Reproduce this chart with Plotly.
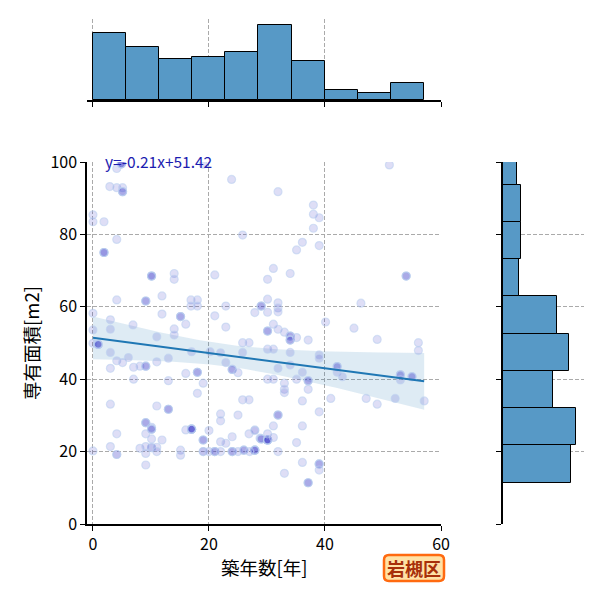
import numpy as np
import plotly.graph_objects as go

# ---- data ----
age = [4.1, 4.9, 4.9, 4.9, 4.9, 4.9, 2.9, 4.1, 5.1, 5.1, 5.1, 5.1, 0.0, 0.0, 1.9, 4.1, 1.9, 1.9, 1.9, 1.9,
       10.1, 10.1, 10.1, 10.1, 14.0, 14.0, 21.0, 4.1, 9.1, 9.1, 9.1, 11.9, 16.9, 18.0, 16.9, 18.0,
       22.9, 0.0, 11.9, 15.1, 15.1, 15.1, 3.0, 3.0, 6.9, 16.0, 14.0, 14.0, 11.0, 0.0, 22.9,
       21.0, 25.8, 23.9, 19.0, 27.9, 29.0, 29.0, 29.0, 25.8, 26.9, 0.0, 0.9, 0.9, 0.9, 0.9, 0.9,
       51.1, 31.9, 38.0, 38.0, 39.0, 38.0, 36.1, 35.1, 39.0, 31.1, 30.1, 34.0, 54.0, 54.0, 54.0,
       30.1, 31.9, 31.9, 31.9, 30.1, 46.2, 40.1, 31.1, 30.1, 30.1, 30.1, 31.9, 33.0, 34.0, 34.0,
       34.0, 34.0, 34.0, 34.0, 35.1, 37.1, 45.0, 49.0, 56.1,
       3.0, 3.0, 4.1, 5.1, 6.1, 7.0, 8.1, 9.1, 9.1, 9.1, 7.0, 11.0, 13.0, 13.0, 16.0, 18.0, 18.0, 18.0,
       17.0, 19.0, 18.0, 3.0, 11.0, 13.0, 13.0, 13.0, 4.1, 4.1, 4.1, 3.0, 0.0, 9.1, 9.1, 9.1, 9.1,
       10.1, 10.1, 10.1, 10.1, 10.1, 10.1, 10.1, 8.1, 9.1, 9.1, 11.0, 11.0, 9.1, 11.9, 15.1, 15.1,
       16.0, 17.0, 17.0, 17.0, 17.0, 17.0, 17.0, 17.0, 19.0, 19.0, 19.0, 19.0, 19.0, 20.0, 20.0,
       21.0, 21.0, 21.0, 22.0,
       22.0, 22.0, 22.9, 22.0, 24.0, 24.0, 24.0, 24.0, 25.0, 25.0, 26.0, 26.0, 26.0, 26.9, 27.9, 27.9,
       27.9, 27.9, 27.9, 27.9, 27.0, 28.8, 25.8, 26.9, 20.2, 22.0, 22.9, 24.0, 24.0, 24.0, 25.0, 25.8,
       56.1, 30.1, 31.1, 34.0, 39.0, 39.0, 42.1, 42.1, 42.1, 42.1, 43.0, 31.9, 34.0, 36.1, 30.1,
       31.1, 35.1, 37.1, 37.1, 37.1, 33.0, 33.0, 33.0, 37.1, 36.1, 41.0, 47.1, 49.0, 52.1, 53.0,
       53.0, 53.0, 53.0, 55.0, 55.0, 55.0, 57.1, 39.0, 31.9, 31.9, 31.9, 31.1, 36.1, 27.9, 29.0, 29.0,
       29.0, 30.1, 30.1, 30.1, 30.1, 30.1, 30.1, 30.1, 30.1, 30.1, 31.1, 35.1, 31.9, 36.1,
       39.0, 39.0, 39.0, 39.0, 33.0, 37.1, 37.1, 37.1]
area = [98.2, 99.5, 99.5, 99.5, 99.5, 99.5, 93.2, 92.9, 92.9, 91.8, 91.8, 91.8, 85.4, 83.5, 83.5, 78.6, 75.0, 75.0, 75.0, 75.0,
        68.5, 68.5, 68.5, 68.5, 69.2, 67.6, 68.8, 61.9, 61.6, 61.6, 61.6, 63.0, 61.9, 61.9, 60.2, 60.2,
        60.2, 58.2, 58.0, 57.3, 57.3, 57.3, 56.4, 53.8, 55.0, 55.2, 53.9, 52.2, 51.7, 53.6, 54.4,
        57.5, 79.8, 95.2, 99.4, 58.4, 60.2, 60.2, 60.2, 50.1, 50.1, 49.9, 49.6, 49.6, 49.6, 49.6, 49.6,
        99.2, 91.8, 88.1, 85.6, 84.6, 81.7, 77.8, 75.7, 76.9, 70.6, 67.6, 69.2, 68.5, 68.5, 68.5,
        62.1, 61.1, 59.7, 58.6, 58.5, 61.0, 55.8, 55.2, 53.3, 53.3, 53.3, 53.8, 53.0, 51.9, 51.9,
        51.9, 50.8, 50.8, 50.8, 51.5, 50.8, 54.1, 51.0, 50.1,
        47.4, 43.0, 45.1, 44.6, 46.0, 43.3, 43.6, 43.6, 43.6, 43.6, 40.0, 44.8, 45.8, 39.6, 41.6, 41.9, 41.9, 41.9,
        47.6, 38.9, 36.1, 33.1, 32.6, 31.7, 31.7, 31.7, 24.9, 19.2, 19.2, 21.4, 20.2, 28.0, 28.0, 28.0, 24.9,
        26.7, 26.2, 26.2, 26.2, 23.5, 21.1, 21.1, 20.9, 21.4, 19.5, 21.2, 20.0, 16.3, 23.2, 20.4, 19.0,
        26.0, 26.2, 26.2, 26.2, 26.2, 26.2, 26.2, 26.2, 23.2, 23.2, 23.2, 20.0, 20.0, 25.8, 20.0,
        20.0, 20.0, 20.0, 30.4,
        28.5, 22.7, 22.3, 20.0, 24.1, 20.0, 20.0, 20.0, 30.1, 20.0, 20.4, 20.4, 20.4, 24.9, 26.0, 20.4,
        20.4, 20.4, 20.4, 20.4, 20.0, 23.7, 34.3, 34.3, 47.6, 47.3, 44.6, 42.7, 42.7, 42.7, 41.8, 47.4,
        47.9, 48.3, 48.3, 47.4, 46.7, 45.8, 43.5, 43.5, 43.5, 41.9, 40.7, 43.0, 43.9, 41.9, 40.0,
        40.0, 40.0, 39.6, 39.6, 39.6, 38.9, 37.2, 36.3, 37.2, 34.0, 34.7, 34.7, 33.1, 34.7, 41.2,
        41.2, 41.2, 39.8, 40.7, 40.7, 40.7, 34.0, 31.0, 30.1, 30.1, 30.1, 27.1, 27.1, 25.8, 23.5, 23.5,
        23.5, 23.2, 23.2, 23.2, 23.2, 23.2, 23.2, 23.2, 23.2, 24.9, 23.9, 22.5, 20.0, 17.0,
        16.6, 16.6, 16.6, 14.9, 14.0, 11.4, 11.4, 11.4]

slope = -0.21
intercept = 51.42

# marginal histogram counts
age_bin_start = 0.0
age_bin_width = 5.707
age_counts = [28, 22, 17, 18, 20, 31, 16, 4, 3, 7]
area_bin_start = 11.4
area_bin_width = 10.29
area_counts = [30, 32, 22, 29, 24, 7, 8, 8, 6]

x_ticks = [0, 20, 40, 60]
y_ticks = [0, 20, 40, 60, 80, 100]

FONT = "Noto Sans CJK JP"

x = np.array(age, dtype=float)
y = np.array(area, dtype=float)
n = len(x)

# regression line + 95% CI band (based on the unique observations)
pts = np.unique(np.column_stack([x, y]), axis=0)
xu, yu = pts[:, 0], pts[:, 1]
nu = len(xu)
xg = np.linspace(x.min(), x.max(), 100)
yg = slope * xg + intercept
resid = yu - (slope * xu + intercept)
s = np.sqrt(np.sum(resid ** 2) / (nu - 2))
xbar = xu.mean()
sxx = np.sum((xu - xbar) ** 2)
se = s * np.sqrt(1.0 / nu + (xg - xbar) ** 2 / sxx)
upper = yg + 1.97 * se
lower = yg - 1.97 * se

fig = go.Figure()

# CI band
fig.add_trace(go.Scatter(
    x=np.concatenate([xg, xg[::-1]]), y=np.concatenate([upper, lower[::-1]]),
    fill="toself", fillcolor="rgba(31,119,180,0.15)", line=dict(width=0),
    hoverinfo="skip", showlegend=False, xaxis="x", yaxis="y"))

# scatter
fig.add_trace(go.Scatter(
    x=x, y=y, mode="markers",
    marker=dict(size=8, color="rgba(50,50,200,0.16)",
                line=dict(color="rgba(190,210,240,0.6)", width=1.2)),
    showlegend=False, xaxis="x", yaxis="y"))

# regression line
fig.add_trace(go.Scatter(
    x=xg, y=yg, mode="lines", line=dict(color="#1f77b4", width=2),
    showlegend=False, xaxis="x", yaxis="y"))

# top histogram
age_centers = age_bin_start + age_bin_width * (np.arange(len(age_counts)) + 0.5)
fig.add_trace(go.Bar(
    x=age_centers, y=age_counts, width=age_bin_width,
    marker=dict(color="#5799c6", line=dict(color="black", width=1)),
    showlegend=False, xaxis="x2", yaxis="y2"))

# right histogram
area_centers = area_bin_start + area_bin_width * (np.arange(len(area_counts)) + 0.5)
fig.add_trace(go.Bar(
    y=area_centers, x=area_counts, width=area_bin_width, orientation="h",
    marker=dict(color="#5799c6", line=dict(color="black", width=1)),
    showlegend=False, xaxis="x3", yaxis="y3"))

W = H = 600.0
main_x = [87 / W, 441 / W]
main_y = [1 - 524 / H, 1 - 162 / H]
x_range = [-1.03, 60]

grid = dict(showgrid=True, gridcolor="#aaaaaa", griddash="4px,2px", gridwidth=1)
tickfont = dict(family=FONT, size=16, color="black")

fig.update_layout(
    width=600, height=600, margin=dict(l=0, r=0, t=0, b=0),
    paper_bgcolor="white", plot_bgcolor="white",
    font=dict(family=FONT),
    bargap=0,
    xaxis=dict(domain=main_x, range=x_range, tickvals=x_ticks, ticks="outside",
               ticklen=5, tickcolor="black", showline=True, linecolor="black",
               linewidth=1.5, zeroline=False, tickfont=tickfont, anchor="y",
               automargin=False, **grid),
    yaxis=dict(domain=main_y, range=[0, 100], tickvals=y_ticks, ticks="outside",
               ticklen=5, tickcolor="black", showline=True, linecolor="black",
               linewidth=1.5, zeroline=False, tickfont=tickfont, anchor="x",
               automargin=False, **grid),
    xaxis2=dict(domain=main_x, range=x_range, tickvals=x_ticks, ticks="outside",
                ticklen=5, tickcolor="black", showline=True, linecolor="black",
                linewidth=1.5, zeroline=False, showticklabels=False, anchor="y2",
                automargin=False, **grid),
    yaxis2=dict(domain=[1 - 100 / H, 1 - 19 / H], range=[0, 33.6], showgrid=False,
                showline=False, showticklabels=False, ticks="", zeroline=False,
                anchor="x2", automargin=False),
    xaxis3=dict(domain=[503 / W, 584 / W], range=[0, 35.7], showgrid=False,
                showline=False, showticklabels=False, ticks="", zeroline=False,
                anchor="y3", automargin=False),
    yaxis3=dict(domain=main_y, range=[0, 100], tickvals=y_ticks, ticks="outside",
                ticklen=5, tickcolor="black", showline=True, linecolor="black",
                linewidth=1.5, zeroline=False, showticklabels=False, anchor="x3",
                automargin=False, **grid),
)

# axis titles & equation text
fig.add_annotation(text="築年数[年]", xref="paper", yref="paper", x=264 / W, y=1 - 567 / H,
                   showarrow=False, font=dict(family=FONT, size=18.5, color="black"),
                   xanchor="center", yanchor="middle")
fig.add_annotation(text="専有面積[m2]", xref="paper", yref="paper", x=31 / W, y=1 - 343 / H,
                   showarrow=False, textangle=-90,
                   font=dict(family=FONT, size=18.5, color="black"),
                   xanchor="center", yanchor="middle")
fig.add_annotation(text=f"y={slope}x+{intercept}", xref="paper", yref="paper",
                   x=103 / W, y=1 - 161 / H, showarrow=False,
                   font=dict(family=FONT, size=15.5, color="#1c1cb0"),
                   xanchor="left", yanchor="middle")

# badge with rounded corners
bx0, bx1, by0, by1, r = 384, 444, 555, 581, 5
def P(px, py):
    return f"{px / W:.5f},{1 - py / H:.5f}"
path = (f"M {P(bx0 + r, by0)} L {P(bx1 - r, by0)} Q {P(bx1, by0)} {P(bx1, by0 + r)} "
        f"L {P(bx1, by1 - r)} Q {P(bx1, by1)} {P(bx1 - r, by1)} "
        f"L {P(bx0 + r, by1)} Q {P(bx0, by1)} {P(bx0, by1 - r)} "
        f"L {P(bx0, by0 + r)} Q {P(bx0, by0)} {P(bx0 + r, by0)} Z")
fig.add_shape(type="path", path=path, xref="paper", yref="paper",
              fillcolor="#ffe2a6", line=dict(color="#ff6a10", width=2.5))
fig.add_annotation(text="<b>岩槻区</b>", xref="paper", yref="paper",
                   x=(bx0 + bx1) / 2 / W, y=1 - (by0 + by1) / 2 / H, showarrow=False,
                   font=dict(family=FONT, size=18, color="#a8300a"),
                   xanchor="center", yanchor="middle")

fig.write_html("out.html")
